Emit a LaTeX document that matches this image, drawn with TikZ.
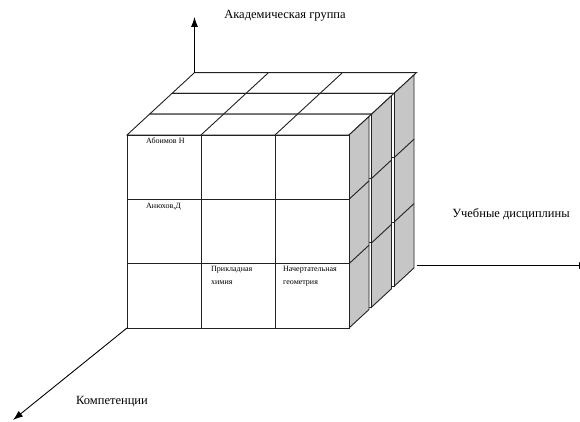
\documentclass[tikz,border=0pt]{standalone}
\usepackage{fontspec}
\setmainfont{Liberation Serif}
\usepackage{tikz}
\usetikzlibrary{arrows.meta, positioning, calc}
\definecolor{sidegray}{HTML}{C6C6C6}
\definecolor{edge}{HTML}{222222}

\begin{document}
\begin{tikzpicture}[x=1pt, y=-1pt, >={Latex[length=10pt,width=7pt]}]
        \tikzstyle{face} = [draw=edge, fill=white, line width=0.9pt]
        \tikzstyle{side} = [draw=edge, fill=sidegray, line width=0.9pt]
        \tikzstyle{grid} = [draw=edge, line width=0.9pt]
        \tikzstyle{axis} = [draw, ->, line width=0.9pt, color=black]
        \tikzstyle{axislabel} = [font=\fontsize{12.5}{15}\selectfont, inner sep=1pt]
        \tikzstyle{cell} = [font=\fontsize{8}{13}\selectfont, anchor=north west, align=left, inner sep=0pt]

        \useasboundingbox (0,0) rectangle (580,422);

        % three slabs of the cube, back to front
        \foreach \k in {2,1,0} {
            \begin{scope}[shift={({22.5*\k},{-20.8*\k})}]
                \path [face] (127,135) -- (349,135) -- (371.5,114.2) -- (149.5,114.2) -- cycle;
                \path [grid] (201,135) -- (223.5,114.2) (275,135) -- (297.5,114.2);
                \path [side] (349,135) -- (369,116.5) -- (369,309.5) -- (349,328) -- cycle;
                \path [grid] (349,199.3) -- (369,180.8) (349,263.7) -- (369,245.2);
                \path [face] (127,135) rectangle (349,328);
                \path [grid] (201,135) -- (201,328) (275,135) -- (275,328)
                    (127,199.3) -- (349,199.3) (127,263.7) -- (349,263.7);
            \end{scope}
        }

        \coordinate (origin) at (127,328);
        \coordinate (backtop) at (194.5,72.6);
        \coordinate (backright) at (416.5,265.6);
        \coordinate (ytip) at (194.5,17);
        \coordinate (xtip) at (589,265.6);
        \coordinate (ztip) at (13,420);

        \path [axis] (backtop) -- (ytip);
        \path [axis] (backright) -- (xtip);
        \path [axis] (origin) -- (ztip);

        \node [axislabel] (group) at (285,16) {Академическая группа};
        \node [axislabel] (subjects) at (511,214) {Учебные дисциплины};
        \node [axislabel] (skills) at (112,402) {Компетенции};

        \node [cell] (abo) at (146,138) {Абоимов Н};
        \node [cell] (anu) at (146,203) {Анюхов,Д};
        \node [cell] (chem) at (211,266) {Прикладная\\химия};
        \node [cell] (geom) at (283,266) {Начертательная\\геометрия};
    \end{tikzpicture}
\end{document}
